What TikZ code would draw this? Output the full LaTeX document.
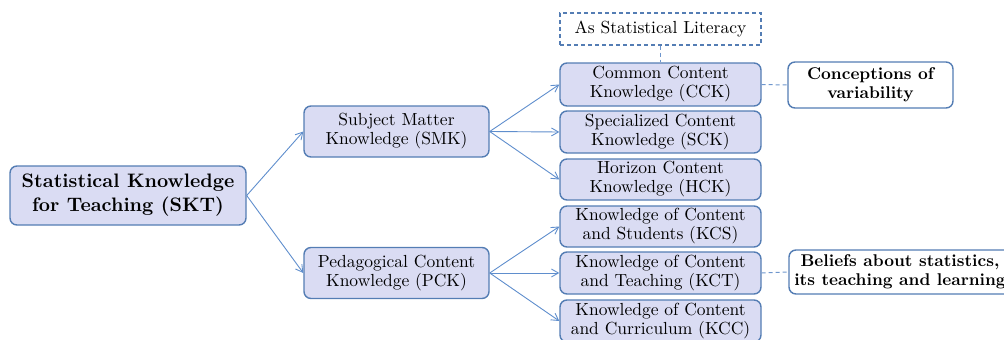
\documentclass[tikz,border=0pt]{standalone}
\usepackage{fontspec}
\setmainfont{lmroman10-regular}[Extension=.otf, BoldFont=lmroman10-bold]
\usetikzlibrary{arrows.meta}
\definecolor{boxfill}{RGB}{218,220,243}
\definecolor{boxdraw}{RGB}{84,125,180}
\definecolor{arrowc}{RGB}{95,142,205}
\definecolor{dashc}{RGB}{110,150,205}
\begin{document}
\begin{tikzpicture}[x=1pt,y=-1pt,
  kbox/.style={draw=boxdraw, fill=boxfill, line width=1.4pt, rounded corners=7pt,
    align=center, inner sep=0pt, font=\fontsize{17.5}{19}\selectfont},
  wbox/.style={draw=boxdraw, fill=white, line width=1.4pt, rounded corners=7pt,
    align=center, inner sep=0pt, font=\fontsize{17}{19}\selectfont\bfseries},
  dbox/.style={draw=boxdraw, line width=1.1pt, dash pattern=on 4pt off 3pt,
    align=center, inner sep=0pt, font=\fontsize{17.5}{19}\selectfont},
  arr/.style={draw=arrowc, line width=0.9pt, -{Straight Barb[length=7pt,width=8pt]}},
  dline/.style={draw=dashc, line width=1pt, dash pattern=on 4pt off 3pt}]
\useasboundingbox (0,0) rectangle (1004,340);
\clip (0,0) rectangle (1004,340);

\node[kbox, minimum width=236pt, minimum height=59pt,
  font=\fontsize{19.5}{24}\selectfont\bfseries] (skt) at (128,195.5)
  {Statistical Knowledge\\for Teaching (SKT)};

\node[kbox, minimum width=185pt, minimum height=51pt] (smk) at (396.5,131.5)
  {Subject Matter\\Knowledge (SMK)};
\node[kbox, minimum width=185pt, minimum height=51pt] (pck) at (396.5,273)
  {Pedagogical Content\\Knowledge (PCK)};

\node[dbox, minimum width=201pt, minimum height=32pt] (lit) at (660.5,29)
  {As Statistical Literacy};

\node[kbox, minimum width=201pt, minimum height=43pt] (cck) at (660.5,84.5)
  {Common Content\\Knowledge (CCK)};
\node[kbox, minimum width=201pt, minimum height=42pt] (sck) at (660.5,132)
  {Specialized Content\\Knowledge (SCK)};
\node[kbox, minimum width=201pt, minimum height=41pt] (hck) at (660.5,179.5)
  {Horizon Content\\Knowledge (HCK)};
\node[kbox, minimum width=201pt, minimum height=41pt] (kcs) at (660.5,226.5)
  {Knowledge of Content\\and Students (KCS)};
\node[kbox, minimum width=201pt, minimum height=42pt] (kct) at (660.5,273)
  {Knowledge of Content\\and Teaching (KCT)};
\node[kbox, minimum width=201pt, minimum height=42pt] (kcc) at (660.5,321)
  {Knowledge of Content\\and Curriculum (KCC)};

\node[wbox, minimum width=165pt, minimum height=46pt] (var) at (870.5,85)
  {Conceptions of\\variability};
\node[wbox, minimum width=222pt, minimum height=44pt] (bel) at (900,272)
  {Beliefs about statistics,\\its teaching and learning};

\draw[arr] (skt.east) -- (smk.west);
\draw[arr] (skt.east) -- (pck.west);
\draw[arr] (smk.east) -- (cck.west);
\draw[arr] (smk.east) -- (sck.west);
\draw[arr] (smk.east) -- (hck.west);
\draw[arr] (pck.east) -- (kcs.west);
\draw[arr] (pck.east) -- (kct.west);
\draw[arr] (pck.east) -- (kcc.west);

\draw[dline] (lit.south) -- (cck.north);
\draw[dline] (cck.east) -- (var.west);
\draw[dline] (kct.east) -- (bel.west);
\end{tikzpicture}
\end{document}
